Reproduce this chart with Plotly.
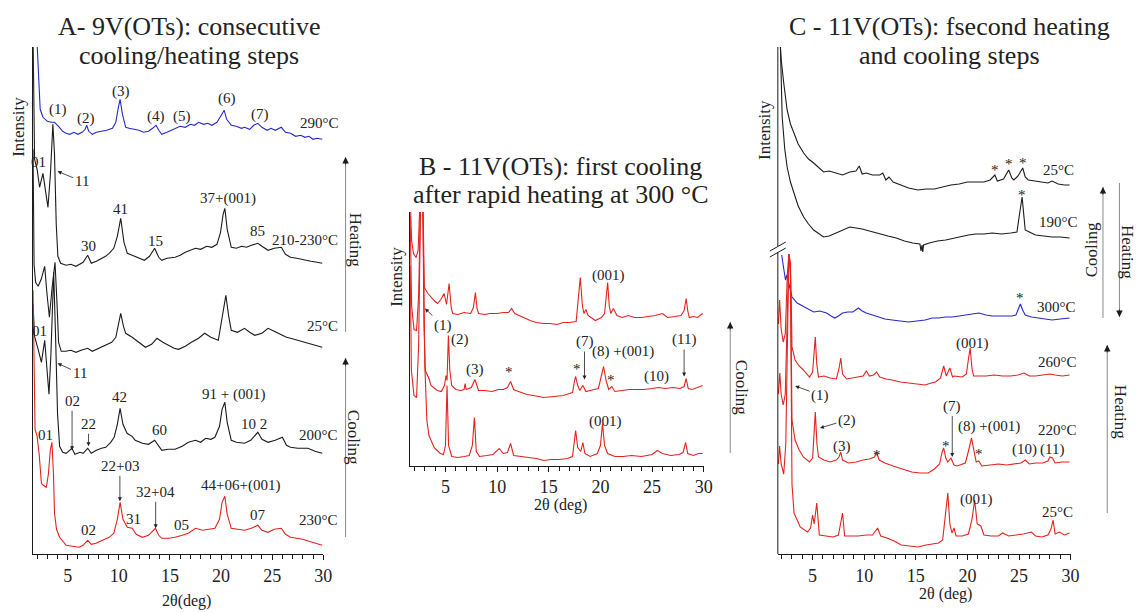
import plotly.graph_objects as go

# 2theta (deg), intensity in stacked arbitrary units

# A - 9V(OTs)
a_290 = [(2.0, 510), (2.15, 470), (2.3, 445), (2.57, 437), (3.0, 433), (3.4, 432), (3.7, 432), (4.1, 428),
         (4.5, 423), (4.84, 421), (5.2, 420), (5.6, 422), (6.0, 420), (6.4, 422), (6.7, 425), (6.85, 429),
         (7.05, 423), (7.4, 420), (7.8, 422), (8.3, 423), (8.8, 424), (9.37, 426), (9.7, 432), (9.95, 447),
         (10.12, 455), (10.35, 440), (10.67, 427), (11.0, 426), (11.5, 425), (11.96, 424), (12.4, 422),
         (12.9, 423), (13.3, 426), (13.64, 429), (13.9, 424), (14.2, 420), (14.7, 422), (15.2, 424),
         (15.6, 426), (16.0, 428), (16.5, 427), (17.0, 430), (17.4, 429), (17.8, 432), (18.3, 430),
         (18.7, 431), (19.1, 429), (19.6, 432), (19.9, 437), (20.2, 443), (20.31, 444), (20.55, 435),
         (21.0, 429), (21.5, 428), (22.0, 426), (22.3, 427), (22.8, 425), (23.2, 429), (23.6, 431),
         (24.0, 427), (24.5, 424), (24.9, 426), (25.3, 424), (25.9, 427), (26.3, 422), (26.8, 421),
         (27.3, 418), (27.8, 419), (28.2, 417), (28.6, 418), (29.0, 415), (29.4, 416), (29.9, 415)]
a_210_230 = [(1.6, 520), (1.68, 420), (1.75, 395), (2.0, 385), (2.24, 367), (2.57, 381), (2.8, 365),
             (3.06, 347), (3.3, 380), (3.54, 430), (3.7, 400), (3.87, 330), (4.03, 298), (4.3, 291),
             (4.84, 289), (5.3, 290), (5.8, 288), (6.1, 290), (6.5, 292), (6.95, 299), (7.3, 291),
             (7.8, 293), (8.3, 296), (8.7, 298), (9.05, 301), (9.5, 306), (9.85, 318), (10.18, 336),
             (10.5, 312), (10.83, 301), (11.3, 299), (11.96, 296), (12.5, 294), (13.0, 298), (13.5, 306),
             (13.9, 297), (14.2, 294), (14.7, 296), (15.5, 297), (16.0, 299), (16.5, 302), (17.0, 304),
             (17.5, 306), (18.0, 305), (18.6, 308), (19.1, 307), (19.6, 310), (19.95, 322), (20.2, 340),
             (20.37, 346), (20.6, 325), (21.0, 307), (21.5, 306), (22.0, 308), (22.5, 307), (22.96, 309),
             (23.6, 311), (24.0, 308), (24.6, 304), (25.2, 306), (25.9, 307), (26.3, 300), (26.8, 297),
             (27.4, 296), (28.2, 294), (28.8, 293), (29.4, 292), (29.9, 291)]
a_25 = [(1.6, 405), (1.7, 290), (1.85, 272), (2.1, 268), (2.4, 275), (2.74, 288), (2.95, 262), (3.2, 237),
        (3.45, 265), (3.75, 292), (3.95, 250), (4.1, 212), (4.36, 203), (4.8, 203), (5.3, 204), (5.8, 202),
        (6.3, 204), (6.95, 206), (7.4, 203), (8.0, 206), (8.72, 209), (9.3, 212), (9.7, 217), (9.95, 230),
        (10.18, 241), (10.45, 228), (10.67, 221), (11.3, 217), (11.9, 212), (12.6, 207), (13.2, 210),
        (13.73, 216), (14.3, 212), (14.87, 209), (15.4, 206), (15.84, 205), (16.5, 208), (17.1, 212),
        (17.8, 216), (18.4, 221), (19.0, 217), (19.73, 214), (20.1, 235), (20.47, 259), (20.75, 238),
        (21.0, 224), (21.6, 222), (22.3, 226), (22.8, 222), (23.3, 219), (24.0, 221), (24.6, 226),
        (25.2, 223), (25.9, 219), (26.4, 217), (26.8, 216), (27.5, 214), (28.2, 212), (28.8, 210),
        (29.4, 209), (29.9, 207)]
a_200 = [(1.6, 250), (1.75, 218), (2.1, 205), (2.42, 192), (2.74, 214), (2.95, 190), (3.16, 160), (3.35, 200),
         (3.62, 282), (3.8, 220), (4.0, 140), (4.2, 108), (4.5, 102), (4.84, 101), (5.4, 106), (5.7, 100),
         (6.2, 102), (6.5, 101), (6.95, 106), (7.3, 101), (7.8, 104), (8.3, 106), (8.72, 107), (9.2, 112),
         (9.54, 117), (9.85, 130), (10.12, 146), (10.4, 130), (10.8, 121), (11.3, 118), (11.6, 114),
         (12.3, 111), (12.9, 110), (13.5, 114), (13.9, 108), (14.2, 104), (14.8, 105), (15.5, 105),
         (16.2, 108), (16.8, 112), (17.5, 114), (18.0, 112), (18.5, 116), (19.0, 115), (19.4, 117),
         (19.85, 128), (20.1, 145), (20.37, 152), (20.6, 132), (21.0, 114), (21.5, 112), (22.3, 111),
         (22.9, 114), (23.6, 122), (24.0, 115), (24.6, 112), (25.3, 114), (26.0, 117), (26.4, 109),
         (26.8, 107), (27.5, 106), (28.5, 106), (29.2, 103), (29.9, 101)]
a_230 = [(1.6, 264), (1.7, 170), (1.8, 125), (2.0, 118), (2.2, 100), (2.42, 71), (2.6, 69), (2.9, 67),
         (3.1, 80), (3.3, 105), (3.45, 112), (3.6, 80), (3.7, 41), (3.9, 25), (4.2, 17), (4.84, 9), (5.5, 8),
         (6.1, 7), (6.5, 9), (6.95, 14), (7.3, 10), (7.76, 11), (8.4, 14), (9.05, 17), (9.5, 21), (9.85, 35),
         (10.12, 52), (10.4, 35), (10.83, 27), (11.3, 26), (11.7, 20), (12.3, 17), (12.9, 19), (13.58, 26),
         (13.9, 19), (14.2, 16), (14.9, 16), (15.5, 17), (16.2, 19), (16.8, 21), (17.5, 26), (18.2, 24),
         (18.8, 25), (19.4, 26), (19.85, 35), (20.1, 52), (20.37, 58), (20.6, 40), (21.0, 26), (21.6, 25),
         (22.3, 24), (22.96, 26), (23.6, 29), (24.0, 24), (24.6, 22), (25.2, 25), (25.9, 26), (26.3, 20),
         (26.8, 17), (27.4, 16), (28.0, 15), (28.6, 13), (29.2, 11), (29.9, 9)]

# B - 11V(OTs), first cooling
b_25 = [(1.58, 270), (1.72, 225), (1.9, 212), (2.15, 208), (2.35, 215), (2.5, 260), (2.63, 290), (2.78, 290),
        (2.85, 230), (2.95, 178), (3.3, 172), (3.6, 168), (3.9, 165), (4.23, 162), (4.55, 166), (4.87, 172),
        (5.1, 161), (5.35, 182), (5.55, 158), (5.7, 152), (6.2, 151), (6.8, 153), (7.44, 152), (7.7, 158),
        (7.9, 173), (8.05, 157), (8.2, 152), (8.8, 151), (9.3, 152), (10.0, 152), (10.6, 153), (11.1, 153),
        (11.4, 157), (11.7, 152), (12.1, 150), (12.6, 148), (13.2, 145), (13.8, 143), (14.5, 142),
        (15.1, 142), (15.8, 141), (16.4, 143), (17.0, 143), (17.65, 144), (17.85, 170), (18.05, 188),
        (18.25, 160), (18.4, 152), (18.6, 156), (18.8, 150), (19.5, 145), (20.1, 148), (20.4, 152),
        (20.55, 170), (20.7, 183), (20.85, 160), (21.0, 152), (21.25, 157), (21.6, 150), (22.1, 148),
        (22.7, 150), (23.3, 148), (24.0, 148), (24.6, 149), (25.3, 150), (26.0, 152), (26.5, 148),
        (27.2, 149), (27.8, 150), (28.1, 155), (28.3, 167), (28.45, 155), (28.6, 148), (29.0, 149),
        (29.4, 148), (29.9, 152)]
b_220 = [(1.58, 250), (1.72, 160), (1.95, 136), (2.2, 135), (2.4, 170), (2.6, 270), (2.8, 270), (2.92, 140),
         (3.05, 95), (3.4, 87), (3.6, 80), (4.2, 75), (4.6, 74), (4.9, 80), (5.05, 90), (5.15, 85), (5.28, 130),
         (5.42, 95), (5.6, 80), (6.0, 76), (6.5, 75), (6.8, 76), (6.9, 82), (7.0, 76), (7.5, 78), (7.85, 86),
         (8.2, 75), (8.8, 75), (9.5, 74), (10.1, 76), (10.6, 76), (11.0, 78), (11.3, 84), (11.6, 76),
         (11.8, 75), (12.4, 73), (12.9, 71), (13.5, 70), (14.5, 68), (15.5, 69), (16.4, 70), (17.0, 72),
         (17.3, 73), (17.5, 85), (17.6, 89), (17.8, 80), (18.0, 75), (18.3, 80), (18.6, 74), (19.0, 75),
         (19.5, 76), (19.8, 77), (20.1, 90), (20.3, 99), (20.55, 85), (20.8, 76), (21.1, 79), (21.4, 74),
         (22.1, 75), (22.8, 76), (23.5, 76), (24.2, 76), (25.0, 77), (25.6, 78), (26.3, 77), (27.0, 78),
         (27.7, 77), (28.1, 79), (28.3, 87), (28.5, 77), (28.9, 76), (29.4, 78), (29.9, 80)]
b_260 = [(1.58, 200), (1.7, 95), (1.95, 70), (2.2, 68), (2.4, 120), (2.6, 270), (2.8, 270), (3.0, 100),
         (3.2, 45), (3.4, 30), (3.9, 18), (4.5, 12), (4.8, 11), (5.0, 20), (5.15, 80), (5.3, 20), (5.6, 9),
         (6.2, 8), (6.8, 9), (7.3, 10), (7.6, 20), (7.8, 48), (7.98, 14), (8.3, 9), (9.0, 10), (9.6, 11),
         (10.2, 17), (10.6, 12), (11.0, 13), (11.3, 22), (11.6, 10), (12.2, 9), (13.0, 8), (13.8, 7),
         (14.5, 5), (15.2, 6), (16.0, 6), (16.8, 7), (17.3, 9), (17.45, 20), (17.6, 35), (17.8, 18),
         (18.1, 14), (18.3, 23), (18.5, 12), (19.0, 9), (19.7, 12), (20.0, 20), (20.2, 42), (20.4, 20),
         (20.7, 12), (21.4, 9), (22.2, 9), (23.0, 10), (24.0, 9), (25.0, 11), (25.5, 15), (26.0, 12),
         (26.8, 10), (27.6, 11), (28.0, 13), (28.25, 23), (28.45, 12), (29.0, 10), (29.5, 12), (29.9, 12)]

# C - 11V(OTs), second heating and cooling
c_25_cool = [(1.8, 520), (1.95, 495), (2.2, 471), (2.53, 444), (2.85, 430), (3.17, 421), (3.6, 410),
             (4.13, 401), (4.6, 395), (5.1, 391), (5.6, 386), (6.06, 382), (6.6, 383), (7.3, 381), (7.9, 379),
             (8.6, 382), (9.2, 383), (9.52, 388), (9.8, 380), (10.2, 381), (10.8, 379), (11.5, 379),
             (11.8, 381), (12.1, 374), (12.4, 377), (12.8, 372), (13.6, 369), (14.3, 366), (15.2, 364),
             (16.0, 365), (16.8, 365), (17.6, 367), (18.4, 369), (19.2, 370), (20.0, 372), (20.8, 372),
             (21.6, 372), (22.2, 374), (22.66, 379), (22.9, 373), (23.5, 375), (24.0, 384), (24.3, 376),
             (24.5, 374), (24.9, 378), (25.36, 386), (25.6, 377), (25.9, 374), (26.5, 373), (27.2, 372),
             (27.8, 371), (28.2, 373), (28.8, 370), (29.4, 369), (29.9, 369)]
c_190 = [(1.85, 520), (2.05, 437), (2.3, 405), (2.53, 387), (2.85, 372), (3.17, 361), (3.6, 348), (4.13, 337),
         (4.6, 330), (5.1, 324), (5.6, 320), (6.06, 317), (6.6, 318), (7.3, 321), (8.0, 324), (8.6, 327),
         (9.2, 326), (9.8, 325), (10.5, 323), (11.5, 320), (12.3, 318), (13.1, 316), (13.9, 313), (14.7, 311),
         (15.4, 310), (15.5, 303), (15.6, 309), (15.67, 302), (15.75, 309), (16.3, 311), (17.1, 313),
         (17.9, 314), (18.7, 316), (19.4, 318), (20.1, 319), (20.8, 320), (21.6, 320), (22.4, 321),
         (23.3, 320), (24.2, 321), (24.8, 322), (25.05, 340), (25.3, 357), (25.5, 335), (25.6, 324),
         (26.0, 322), (26.6, 319), (27.4, 318), (28.2, 317), (29.0, 317), (29.9, 316)]
c_300 = [(2.0, 299), (2.2, 285), (2.37, 274), (2.5, 279), (2.69, 270), (2.85, 262), (3.0, 257), (3.5, 251),
         (4.0, 248), (4.45, 246), (5.1, 242), (5.7, 243), (6.35, 241), (6.8, 238), (7.15, 236), (7.5, 238),
         (7.9, 241), (8.4, 242), (8.9, 242), (9.44, 246), (9.8, 243), (10.2, 241), (10.8, 239), (11.4, 237),
         (12.0, 235), (12.7, 234), (13.5, 233), (14.3, 232), (15.1, 233), (15.9, 234), (16.6, 236),
         (17.2, 236), (17.9, 237), (18.5, 237), (19.2, 238), (19.8, 239), (20.5, 240), (21.1, 241),
         (21.8, 239), (22.4, 238), (23.1, 238), (23.7, 238), (24.3, 238), (24.7, 239), (24.95, 246),
         (25.13, 250), (25.35, 244), (25.6, 239), (26.2, 237), (26.9, 236), (27.5, 235), (28.2, 234),
         (29.0, 235), (29.9, 236)]
c_260 = [(1.68, 230), (1.8, 254), (1.95, 225), (2.15, 212), (2.35, 220), (2.55, 280), (2.7, 300), (2.85, 290),
         (2.95, 240), (3.0, 207), (3.3, 194), (3.7, 188), (4.1, 184), (4.7, 177), (5.0, 182), (5.12, 200),
         (5.26, 217), (5.4, 190), (5.57, 177), (6.1, 178), (6.7, 176), (7.3, 175), (7.55, 185), (7.73, 196),
         (7.9, 180), (8.3, 175), (9.0, 176), (9.6, 177), (9.9, 178), (10.2, 183), (10.5, 178), (10.9, 179),
         (11.2, 182), (11.5, 177), (12.1, 175), (12.7, 174), (13.5, 172), (14.3, 171), (15.1, 170),
         (15.9, 169), (16.5, 171), (16.9, 172), (17.4, 176), (17.7, 188), (17.95, 178), (18.3, 186),
         (18.55, 177), (18.7, 178), (19.5, 177), (19.9, 180), (20.1, 195), (20.26, 206), (20.45, 185),
         (20.6, 178), (21.2, 178), (21.8, 178), (22.6, 179), (23.4, 178), (24.2, 178), (24.9, 179),
         (25.5, 181), (26.0, 178), (26.6, 178), (27.3, 179), (28.0, 180), (28.5, 179), (29.2, 178),
         (29.9, 179)]
c_220 = [(1.68, 160), (1.82, 181), (1.95, 160), (2.15, 149), (2.35, 160), (2.55, 250), (2.7, 300), (2.85, 290),
         (2.95, 170), (3.0, 134), (3.3, 114), (3.7, 104), (4.1, 97), (4.7, 92), (5.0, 96), (5.12, 115),
         (5.26, 142), (5.42, 110), (5.57, 97), (6.1, 94), (6.7, 92), (7.3, 94), (7.55, 97), (7.73, 102),
         (7.9, 94), (8.5, 91), (9.2, 92), (9.9, 94), (10.5, 95), (11.0, 97), (11.2, 102), (11.45, 94),
         (12.0, 91), (12.8, 88), (13.6, 85), (14.6, 82), (15.4, 81), (16.2, 81), (16.8, 85), (17.3, 90),
         (17.55, 102), (17.7, 106), (17.9, 96), (18.1, 92), (18.4, 96), (18.7, 89), (19.0, 88), (19.8, 91),
         (20.1, 103), (20.4, 116), (20.6, 105), (20.85, 92), (21.1, 93), (21.4, 88), (22.2, 89), (23.0, 90),
         (23.8, 89), (24.6, 90), (25.2, 91), (25.6, 94), (26.0, 90), (26.6, 91), (27.3, 91), (27.8, 93),
         (28.0, 97), (28.25, 96), (28.5, 91), (29.2, 92), (29.9, 92)]
c_25_heat = [(1.68, 90), (1.8, 108), (1.95, 90), (2.2, 80), (2.4, 110), (2.55, 220), (2.7, 300), (2.85, 280),
             (2.95, 100), (3.0, 70), (3.2, 41), (3.5, 33), (3.8, 27), (4.5, 22), (4.8, 26), (5.0, 39),
             (5.15, 30), (5.4, 51), (5.55, 28), (5.65, 19), (6.3, 18), (7.0, 17), (7.5, 19), (7.9, 41),
             (8.1, 18), (8.7, 18), (9.4, 18), (10.2, 19), (10.8, 19), (11.3, 26), (11.6, 18), (12.2, 16),
             (12.9, 13), (13.6, 9), (14.4, 8), (15.2, 7), (16.0, 9), (16.6, 10), (17.2, 11), (17.6, 14),
             (17.85, 40), (18.1, 61), (18.3, 30), (18.5, 21), (18.7, 26), (18.9, 18), (19.5, 18), (20.1, 20),
             (20.45, 35), (20.7, 54), (20.95, 30), (21.3, 28), (21.6, 19), (22.3, 18), (23.0, 18), (23.4, 21),
             (24.0, 18), (24.7, 19), (25.4, 20), (26.2, 22), (26.6, 18), (27.2, 17), (27.8, 19), (28.1, 25),
             (28.3, 34), (28.5, 20), (28.9, 22), (29.4, 19), (29.9, 21)]

RED = '#e3221e'
BLUE = '#2727cf'
BLACK = '#1b1b1b'
GREY = '#8a8a8a'
FONT = 'Liberation Serif'
W, H = 1146, 612


def px(x):
    return x / W


def py(y):
    return 1 - y / H


fig = go.Figure()


def add_pattern(points, color, n):
    xs, ys = zip(*points)
    fig.add_trace(go.Scatter(x=xs, y=ys, mode='lines', line=dict(color=color, width=1.1),
                             xaxis='x' + n, yaxis='y' + n, hoverinfo='skip', showlegend=False))


for pts, col in [(a_290, BLUE), (a_210_230, BLACK), (a_25, BLACK), (a_200, BLACK), (a_230, RED)]:
    add_pattern(pts, col, '')
for pts in [b_25, b_220, b_260]:
    add_pattern(pts, RED, '2')
for pts, col in [(c_25_cool, BLACK), (c_190, BLACK), (c_300, BLUE), (c_260, RED), (c_220, RED), (c_25_heat, RED)]:
    add_pattern(pts, col, '3')


def x_axis(left, right, start, anchor):
    return dict(domain=[px(left), px(right)], range=[start, 30.02], anchor=anchor,
                showline=True, linecolor=BLACK, linewidth=1, ticks='outside', ticklen=5,
                tickcolor=BLACK, dtick=5, tick0=0,
                minor=dict(ticks='outside', dtick=1, ticklen=4, tickcolor=BLACK),
                showgrid=False, zeroline=False,
                tickfont=dict(family=FONT, size=18, color='#222'))


def y_axis(bottom, top, anchor, line=True):
    return dict(domain=[py(bottom), py(top)], range=[0, bottom - top], anchor=anchor,
                showline=line, linecolor=BLACK, linewidth=1, showticklabels=False, ticks='',
                showgrid=False, zeroline=False)


fig.update_layout(
    width=W, height=H,
    margin=dict(l=0, r=0, t=0, b=0),
    paper_bgcolor='white', plot_bgcolor='white',
    xaxis=x_axis(33.3, 326, 1.6, 'y'), yaxis=y_axis(554.3, 47, 'x'),
    xaxis2=x_axis(413.3, 709.5, 1.57, 'y2'), yaxis2=y_axis(465.5, 212, 'x2'),
    xaxis3=x_axis(784, 1079.3, 1.63, 'y3'), yaxis3=y_axis(554, 47, 'x3', line=False),
)


def label(text, x, y, n, size=15):
    fig.add_annotation(text=text, x=x, y=y, xref='x' + n, yref='y' + n, showarrow=False,
                       xanchor='center', yanchor='middle',
                       font=dict(family=FONT, size=size, color='#222'))


def pointer(text, x, y, ax, ay, n):
    fig.add_annotation(text=text, x=x, y=y, xref='x' + n, yref='y' + n, showarrow=True,
                       ax=ax, ay=ay, arrowhead=2, arrowsize=1, arrowwidth=0.8, arrowcolor='#222',
                       font=dict(family=FONT, size=15, color='#222'))


def note(text, x, y, size=17, angle=0):
    fig.add_annotation(text=text, x=px(x), y=py(y), xref='paper', yref='paper', showarrow=False,
                       xanchor='center', yanchor='middle', textangle=angle,
                       font=dict(family=FONT, size=size, color='#222'))


def direction(x, y_from, y_to):
    fig.add_shape(type='line', xref='paper', yref='paper', x0=px(x), x1=px(x), y0=py(y_from), y1=py(y_to),
                  line=dict(color=GREY, width=1))
    fig.add_annotation(text='', x=px(x), y=py(y_to), xref='paper', yref='paper', showarrow=True,
                       ax=0, ay=9 if y_from > y_to else -9, arrowhead=2, arrowsize=1.3,
                       arrowwidth=1, arrowcolor=BLACK)


# panel A labels
for text, x, y in [('(1)', 4.03, 445), ('(2)', 6.81, 436), ('(3)', 10.17, 463), ('(4)', 13.6, 438),
                   ('(5)', 16.2, 438), ('(6)', 20.55, 456), ('(7)', 23.8, 440), ('290°C', 29.6, 431),
                   ('01', 2.18, 392), ('41', 10.17, 345), ('30', 7.03, 308), ('15', 13.57, 313),
                   ('37+(001)', 20.68, 356), ('85', 23.6, 323), ('210-230°C', 28.25, 314),
                   ('25°C', 29.9, 228), ('01', 2.25, 223), ('42', 10.08, 157), ('60', 13.96, 124),
                   ('91 + (001)', 21.26, 160), ('10 2', 23.27, 130), ('200°C', 29.57, 119),
                   ('01', 2.8, 119), ('31', 11.46, 35), ('02', 7.03, 24), ('05', 16.1, 29),
                   ('44+06+(001)', 21.9, 69), ('07', 23.6, 39), ('230°C', 29.57, 34)]:
    label(text, x, y, '')
pointer('11', 4.0, 383, 24, 10, '')
pointer('11', 4.0, 191, 22, 10, '')
pointer('02', 5.42, 104, 0, -49, '')
pointer('22', 7.03, 108, 0, -22, '')
pointer('22+03', 10.1, 53, 0, -35, '')
pointer('32+04', 13.6, 26, 0, -36, '')

# panel B labels
for text, x, y in [('(001)', 20.77, 190), ('25°C', 30.05, 164), ('(2)', 6.37, 126), ('(3)', 7.81, 96),
                   ('*', 11.17, 94), ('*', 17.73, 97), ('(8) +(001)', 22.2, 114), ('*', 21.0, 86),
                   ('(10)', 25.4, 89), ('220°C', 30.2, 92), ('(001)', 20.45, 44), ('260°C', 30.2, 27)]:
    label(text, x, y, '2')
pointer('(1)', 3.01, 157, 18, 17, '2')
pointer('(7)', 18.46, 86, 0, -38, '2')
pointer('(11)', 28.1, 89, 0, -37, '2')

# panel C labels
for text, x, y in [('*', 22.7, 384), ('*', 24.04, 390), ('*', 25.36, 391), ('25°C', 28.8, 384),
                   ('*', 25.26, 359), ('190°C', 28.8, 332), ('*', 25.1, 256), ('300°C', 28.63, 247),
                   ('(001)', 20.45, 211), ('260°C', 28.72, 192), ('(3)', 7.88, 108), ('*', 11.22, 99),
                   ('*', 17.88, 108), ('(8) +(001)', 22.06, 128), ('*', 21.15, 100), ('(10)', 25.52, 105),
                   ('(11)', 28.21, 105), ('220°C', 28.72, 124), ('(001)', 20.84, 55), ('25°C', 28.72, 42)]:
    label(text, x, y, '3')
pointer('(1)', 3.31, 168, 25, 9, '3')
pointer('(2)', 5.71, 126, 27, -8, '3')
pointer('(7)', 18.53, 97, 0, -51, '3')

# titles
for text, x, y in [('A- 9V(OTs): consecutive', 190, 27), ('cooling/heating steps', 190, 55),
                   ('B - 11V(OTs): first cooling', 565, 167), ('after rapid heating at 300 °C', 565, 194),
                   ('C - 11V(OTs): fsecond heating', 957, 27), ('and cooling steps', 957, 55)]:
    note(text, x, y, size=26)

# axis titles and side notes
note('Intensity', 18, 127, angle=-90)
note('Intensity', 400, 277, angle=-90)
note('Intensity', 770, 130, angle=-90)
note('2θ(deg)', 188, 601, size=16)
note('2θ (deg)', 565, 505, size=16)
note('2θ (deg)', 953, 594, size=16)
note('Heating', 358, 240, angle=90)
note('Cooling', 357, 437, angle=90)
note('Cooling', 748, 387, angle=90)
note('Cooling', 1100, 250, angle=-90)
note('Heating', 1137, 252, angle=90)
note('Heating', 1130, 412, angle=90)

direction(348.3, 332, 157)
direction(348.3, 537, 358)
direction(736, 453, 322)
direction(1111.7, 318, 187)
direction(1128.3, 183, 317)
direction(1116, 513, 345)

# broken intensity axis in panel C
for y0, y1 in [(47, 246), (252, 554)]:
    fig.add_shape(type='line', xref='paper', yref='paper', x0=px(784), x1=px(784), y0=py(y0), y1=py(y1),
                  line=dict(color=BLACK, width=1))
for y0 in [251, 257]:
    fig.add_shape(type='line', xref='paper', yref='paper', x0=px(776), x1=px(792), y0=py(y0), y1=py(y0 - 9),
                  line=dict(color=BLACK, width=1))

# the page body has a default 8px margin; drop it so the figure fills the window
fig.write_html("out.html", config=dict(displayModeBar=False),
               post_script="document.body.style.margin='0';")
